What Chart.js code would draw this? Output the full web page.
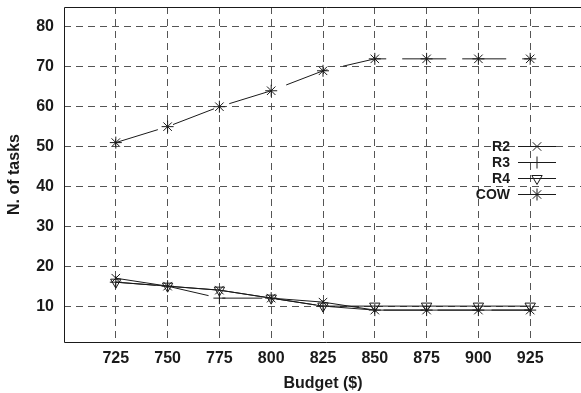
<!DOCTYPE html>
<html>
<head>
<meta charset="utf-8">
<script src="https://cdn.jsdelivr.net/npm/chart.js@4"></script>
<style>
  html, body { margin: 0; padding: 0; background: #fff; overflow: hidden; }
  #wrap { width: 589px; height: 393px; }
</style>
</head>
<body>
<div id="wrap"><canvas id="grafico" width="589" height="393"></canvas></div>
<script>
// dados
const budgets = [725, 750, 775, 800, 825, 850, 875, 900, 925];
const r2  = [17, 15, 14, 12, 11, 9, 9, 9, 9];
const r3  = [16, 15, 12, 12, 10, 9, 9, 9, 9];
const r4  = [16, 15, 14, 12, 10, 10, 10, 10, 10];
const cow = [51, 55, 60, 64, 69, 72, 72, 72, 72];
const yTicks = [10, 20, 30, 40, 50, 60, 70, 80];

const FONT = "'Liberation Sans', Arial, sans-serif";
const INK = "#1a1a1a";
const NADA = "rgba(0,0,0,0)";

function pontos(vals){
  return budgets.map((b,i)=>({x:b, y:vals[i]}));
}

function serie(label, vals, estilo, extra){
  return Object.assign({
    label:label,
    data:pontos(vals),
    borderColor:INK,
    backgroundColor:NADA,
    pointBorderColor:INK,
    pointBackgroundColor:NADA,
    borderWidth:1,
    pointBorderWidth:1,
    pointRadius:6,
    pointStyle:estilo,
    tension:0
  }, extra || {});
}

/* =========================
   moldura + legenda
========================= */
const moldura = {
  id:"moldura",
  beforeDatasetsDraw(chart){
    const a = chart.chartArea, c = chart.ctx;
    const l = Math.round(a.left)+0.5, t = Math.round(a.top)+0.5, b = Math.round(a.bottom)+0.5;
    c.save();
    c.strokeStyle = INK;
    c.lineWidth = 1;
    c.beginPath();
    c.moveTo(chart.width, t);
    c.lineTo(l, t);
    c.lineTo(l, b);
    c.lineTo(chart.width, b);
    c.stroke();
    c.restore();
  },
  afterDatasetsDraw(chart){
    const c = chart.ctx;
    const x0 = 518, x1 = 556, xt = 510;
    c.save();
    c.font = "bold 14px " + FONT;
    c.textAlign = "right";
    c.textBaseline = "middle";
    chart.data.datasets.forEach((ds,i)=>{
      const y = 146 + i*16;
      c.fillStyle = INK;
      c.fillText(ds.label, xt, y+1);
      c.strokeStyle = INK;
      c.lineWidth = 1;
      c.setLineDash([]);
      c.beginPath();
      c.moveTo(x0, y+0.5);
      c.lineTo(x1, y+0.5);
      c.stroke();
      c.fillStyle = NADA;
      Chart.helpers.drawPoint(c, {
        pointStyle: ds.pointStyle,
        radius: 6,
        rotation: ds.pointRotation || 0,
        borderWidth: 1
      }, (x0+x1)/2, y+0.5);
    });
    c.restore();
  }
};

new Chart(document.getElementById("grafico"),{
  type:"line",
  data:{
    datasets:[
      serie("R2", r2, "crossRot"),
      serie("R3", r3, "cross", {borderDash:[40,14]}),
      serie("R4", r4, "triangle", {pointRotation:180}),
      serie("COW", cow, "star", {borderDash:[44,16]})
    ]
  },
  options:{
    responsive:false,
    animation:false,
    layout:{padding:{top:7, left:0, right:0, bottom:0}},
    plugins:{legend:{display:false}, tooltip:{enabled:false}},
    scales:{
      x:{
        type:"linear",
        min:700, max:950,
        afterBuildTicks:s=>{ s.ticks = budgets.map(v=>({value:v})); },
        afterFit:s=>{ s.height = 51; s.paddingLeft = 0; s.paddingRight = 0; },
        grid:{color:"#555", lineWidth:1, drawTicks:false},
        border:{display:false, dash:[7,5]},
        ticks:{color:INK, padding:7, font:{family:FONT, size:16, weight:"bold"}, maxRotation:0},
        title:{display:true, text:"Budget ($)", color:INK, padding:{top:1, bottom:0},
          font:{family:FONT, size:16, weight:"bold"}}
      },
      y:{
        type:"linear",
        min:1, max:85,
        afterBuildTicks:s=>{ s.ticks = yTicks.map(v=>({value:v})); },
        afterFit:s=>{ s.width = 64; s.paddingTop = 0; s.paddingBottom = 0; },
        grid:{color:"#555", lineWidth:1, drawTicks:false},
        border:{display:false, dash:[7,5]},
        ticks:{color:INK, padding:10, font:{family:FONT, size:16, weight:"bold"}},
        title:{display:true, text:"N. of tasks", color:INK, padding:{top:5, bottom:0},
          font:{family:FONT, size:16, weight:"bold"}}
      }
    }
  },
  plugins:[moldura]
});
</script>
</body>
</html>
